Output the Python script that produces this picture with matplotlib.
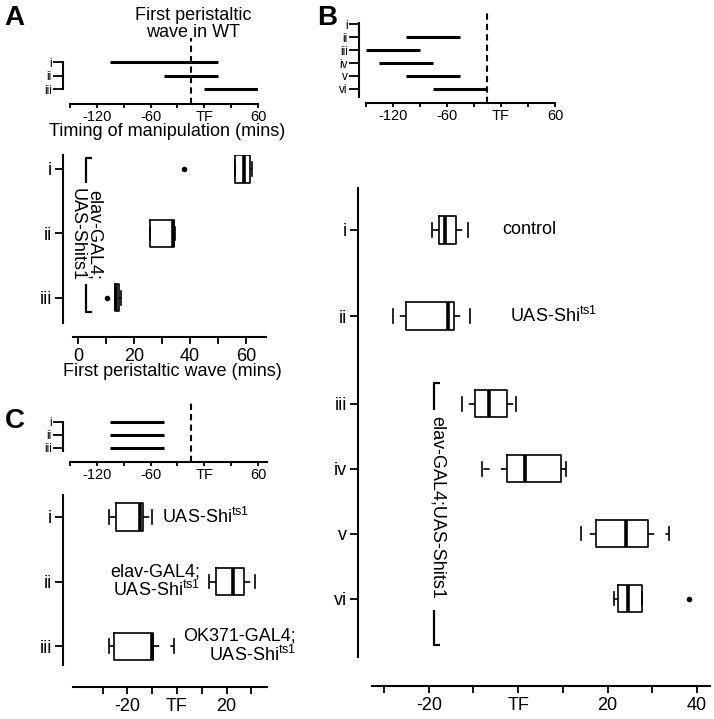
import matplotlib
matplotlib.use("Agg")
import matplotlib.pyplot as plt
import numpy as np

plt.rcParams['font.family'] = ['Liberation Sans', 'DejaVu Sans']
plt.rcParams['font.size'] = 13
plt.rcParams['mathtext.default'] = 'regular'
plt.rcParams['lines.scale_dashes'] = False

W, H = 714, 719

# first peristaltic wave in WT (mins relative to TF)
wt_wave = -15

# timing of the temperature shift, panels A/B/C (mins)
a_rows = ['i', 'ii', 'iii']
a_shift_start = [-105, -45, 0]
a_shift_end = [15, 15, 60]

b_rows = ['i', 'ii', 'iii', 'iv', 'v', 'vi']
b_shift_start = [np.nan, -105, -150, -135, -105, -75]
b_shift_end = [np.nan, -45, -90, -75, -45, -15]

c_rows = ['i', 'ii', 'iii']
c_shift_start = [-105, -105, -105]
c_shift_end = [-45, -45, -45]

# box stats: first peristaltic wave
a_lo = [56.0, 25.7, 13.3]
a_q1 = [56.0, 25.7, 13.3]
a_med = [59.4, 34.0, 13.6]
a_q3 = [61.3, 34.3, 14.8]
a_hi = [62.0, 34.6, 15.3]
a_out = [[37.8], [], [10.5]]

b_lo = [-19.2, -28.1, -12.5, -8.2, 14.0, 21.4]
b_q1 = [-17.8, -25.1, -9.6, -2.6, 17.5, 22.4]
b_med = [-16.4, -15.6, -6.6, 1.5, 24.1, 24.5]
b_q3 = [-14.0, -14.4, -2.5, 9.5, 29.1, 27.7]
b_hi = [-11.3, -10.7, -0.5, 10.7, 33.8, 27.7]
b_out = [[], [], [], [], [], [38.3]]

c_lo = [-27.5, 12.8, -27.5]
c_q1 = [-24.4, 15.8, -25.5]
c_med = [-14.9, 22.4, -10.0]
c_q3 = [-13.7, 27.2, -9.7]
c_hi = [-10.1, 31.5, -1.3]

shi = 'UAS-Shi$^{ts1}$'

fig = plt.figure(figsize=(W / 100, H / 100), dpi=100)


def px_axes(x0, y0, x1, y1):
    ax = fig.add_axes([x0 / W, 1 - y1 / H, (x1 - x0) / W, (y1 - y0) / H])
    ax.patch.set_visible(False)
    for s in ['top', 'right']:
        ax.spines[s].set_visible(False)
    for s in ['left', 'bottom']:
        ax.spines[s].set_linewidth(1.5)
    return ax


def top_panel(ax, rows, start, end, xmax, bounds, ylim):
    pos = np.arange(len(rows))
    ax.hlines(pos, start, end, color='k', lw=2.2)
    ax.axvline(wt_wave, color='k', lw=1.5, ls=(0, (4.5, 3)))
    ax.set_xlim(-150, xmax)
    ax.set_ylim(*ylim)
    ax.spines['left'].set_position(('outward', 7 * 0.72))
    ax.spines['left'].set_bounds(*bounds)
    ticks = np.arange(-150, 61, 30)
    ax.set_xticks(ticks)
    ax.set_xticklabels(['', '-120', '', '-60', '', 'TF', '', '60'], fontsize=10.5)
    ax.set_yticks(pos)
    ax.set_yticklabels(rows, fontsize=8.5)
    ax.tick_params(axis='x', length=3, width=1.3, pad=1)
    ax.tick_params(axis='y', length=7, width=1.3, pad=1)


def stats(lo, q1, med, q3, hi, out=None):
    res = []
    for k in range(len(med)):
        res.append(dict(whislo=lo[k], q1=q1[k], med=med[k], q3=q3[k],
                        whishi=hi[k], fliers=out[k] if out else []))
    return res


def boxes(ax, st, pos, width):
    kw = dict(positions=pos, widths=width, showfliers=True, manage_ticks=False,
              boxprops=dict(color='k', lw=1.2),
              medianprops=dict(color='k', lw=2.6),
              whiskerprops=dict(color='k', lw=1.2, linestyle=(0, (4.5, 8))),
              capprops=dict(color='k', lw=1.2),
              flierprops=dict(marker='o', markersize=3, markerfacecolor='k',
                              markeredgecolor='k'))
    try:
        ax.bxp(st, orientation='horizontal', **kw)
    except TypeError:
        ax.bxp(st, vert=False, **kw)


def bottom_style(ax, rows, pos, left_out, bottom_out):
    ax.spines['left'].set_position(('outward', left_out * 0.72))
    ax.spines['bottom'].set_position(('outward', bottom_out * 0.72))
    ax.set_yticks(pos)
    ax.set_yticklabels(rows)
    ax.tick_params(axis='y', length=6, width=1.3, pad=2)
    ax.tick_params(axis='x', length=5, width=1.3, pad=3)


def bracket(ax, x, x2, top, bottom):
    kw = dict(color='k', lw=1.6, clip_on=False, solid_capstyle='butt')
    ax.plot([x2, x, x], [top[0], top[0], top[1]], **kw)
    ax.plot([x, x, x2], [bottom[0], bottom[1], bottom[1]], **kw)


# ---- A, top ----
ax = px_axes(70, 38, 258, 104)
top_panel(ax, a_rows, a_shift_start, a_shift_end, 60, (0, 2), (3.11, -1.78))
fig.text(193 / W, 1 - 24 / H, 'First peristaltic\nwave in WT', ha='center',
         va='center', linespacing=1.05)
fig.text(167 / W, 1 - 131 / H, 'Timing of manipulation (mins)', ha='center',
         va='center')

# ---- A, bottom ----
ax = px_axes(73, 155, 266, 323)
apos = np.arange(len(a_rows))
boxes(ax, stats(a_lo, a_q1, a_med, a_q3, a_hi, a_out), apos, 0.42)
ax.set_xlim(-1.77, 67.1)
ax.set_ylim(2.39, -0.217)
bottom_style(ax, a_rows, apos, 10, 14)
ax.set_xticks(np.arange(0, 61, 10))
ax.set_xticklabels(['0', '', '20', '', '40', '', '60'])
bracket(ax, 2.8, 4.9, (-0.17, 0.22), (1.78, 2.22))
ax.text(2.8, 1.02, 'elav-GAL4;\nUAS-Shits1', rotation=270, ha='center',
        va='center', linespacing=1.0)
fig.text(172 / W, 1 - 372 / H, 'First peristaltic wave (mins)', ha='center',
         va='center')

# ---- B, top ----
ax = px_axes(366, 13, 555, 103)
top_panel(ax, b_rows, b_shift_start, b_shift_end, 60, (-0.1, 5.6), (6.08, -0.85))

# ---- B, bottom ----
ax = px_axes(372, 188, 710, 657)
bpos = np.array([0, 1.33, 2.67, 3.67, 4.67, 5.67])
boxes(ax, stats(b_lo, b_q1, b_med, b_q3, b_hi, b_out), bpos, 0.43)
ax.set_xlim(-32.7, 42.9)
ax.set_ylim(6.57, -0.646)
bottom_style(ax, b_rows, bpos, 14, 29)
ax.set_xticks(np.arange(-30, 41, 10))
ax.set_xticklabels(['', '-20', '', 'TF', '', '20', '', '40'])
ax.text(-3.6, bpos[0], 'control', va='center')
ax.text(-1.9, bpos[1], shi, va='center')
bracket(ax, -18.9, -17.5, (2.35, 2.77), (5.85, 6.38))
ax.text(-18.0, 4.27, 'elav-GAL4;UAS-Shits1', rotation=270, ha='center',
        va='center')

# ---- C, top ----
ax = px_axes(70, 400, 267, 462)
top_panel(ax, c_rows, c_shift_start, c_shift_end, 70, (0, 2.2), (3.08, -1.69))

# ---- C, bottom ----
ax = px_axes(73, 495, 267, 665)
cpos = np.arange(len(c_rows))
boxes(ax, stats(c_lo, c_q1, c_med, c_q3, c_hi), cpos, 0.42)
ax.set_xlim(-41.9, 36.3)
ax.set_ylim(2.29, -0.34)
bottom_style(ax, c_rows, cpos, 10, 22)
ax.set_xticks(np.arange(-30, 31, 10))
ax.set_xticklabels(['', '-20', '', 'TF', '', '20', ''])
ax.text(-6.0, cpos[0], shi, va='center')
ax.text(9.3, cpos[1], 'elav-GAL4;\n' + shi, ha='right', va='center',
        linespacing=1.0)
ax.text(48.0, cpos[2], 'OK371-GAL4;\n' + shi, ha='right', va='center',
        linespacing=1.0)

# panel letters
for lab, x, y in [('A', 14, 18), ('B', 327, 18), ('C', 15, 421)]:
    fig.text(x / W, 1 - y / H, lab, fontsize=20, fontweight='bold',
             ha='center', va='center')

fig.savefig('out.png', dpi=100)
